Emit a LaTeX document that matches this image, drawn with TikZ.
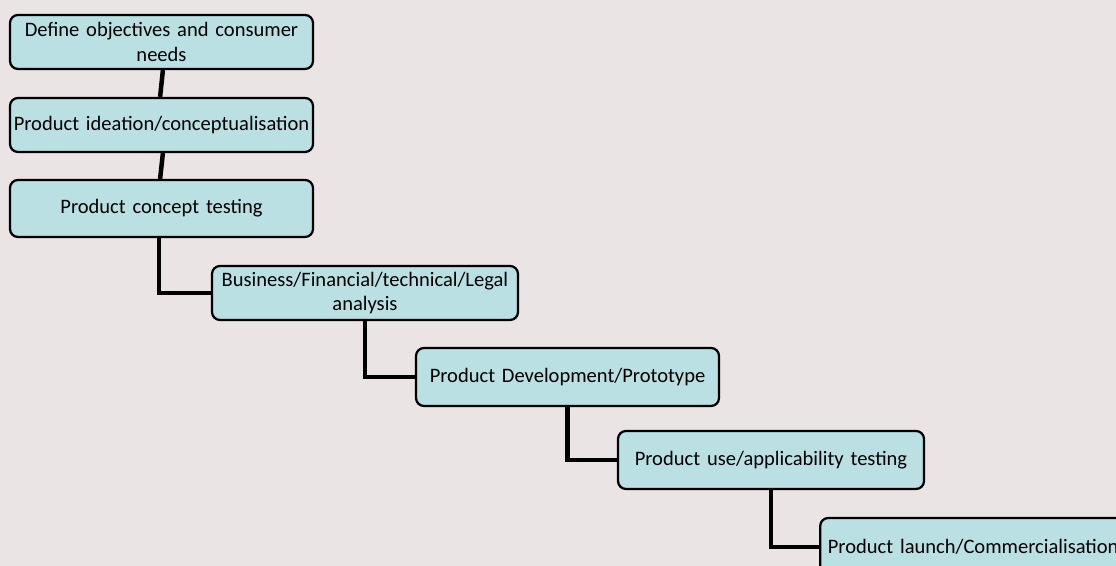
\documentclass[tikz,border=0pt]{standalone}
\usepackage{xcolor}
\usepackage{fontspec}
\setmainfont{Carlito}
\usepackage{tikz}

\definecolor{stepfill}{RGB}{186,224,227}
\definecolor{backgr}{RGB}{234,228,228}

\tikzset{
    stage/.style={draw=black, line width=1.6pt, rounded corners=0.2cm, fill=stepfill,
        text width=7.5cm, align=center, minimum width=7.575cm, minimum height=1.35cm,
        inner sep=0.5pt, font=\fontsize{14.6pt}{17.4pt}\selectfont},
    link/.style={draw=black, line width=3.2pt}
}

\begin{document}
\begin{tikzpicture}
                    \useasboundingbox (0,0) rectangle (27.9,14.15);
                    \fill[backgr] (0,0) rectangle (27.9,14.15);
                    \clip (0,0) rectangle (27.9,14.15);

                    \node[stage] (define) at (4.0375,13.1) {Define objectives and consumer\\ needs};
                    \node[stage] (ideation) at (4.0375,11.025) {Product ideation/conceptualisation};
                    \node[stage, minimum height=1.425cm] (concept) at (4.0375,8.9375) {Product concept testing};
                    \node[stage, minimum width=7.65cm] (analysis) at (9.125,6.825) {Business/Financial/technical/Legal\\ analysis};
                    \node[stage, minimum height=1.45cm] (proto) at (14.1875,4.725) {Product Development/Prototype};
                    \node[stage, minimum width=7.65cm, minimum height=1.45cm] (usetest) at (19.275,2.65) {Product use/applicability testing};
                    \node[stage, minimum width=7.65cm, minimum height=1.45cm] (launch) at (24.33,0.475) {Product launch/Commercialisation};

                    \draw[link] ([xshift=1pt]define.south) -- ([xshift=-1pt]ideation.north);
                    \draw[link] ([xshift=1pt]ideation.south) -- ([xshift=-1pt]concept.north);
                    \draw[link] ([xshift=-1.8pt]concept.south) |- (analysis.west);
                    \draw[link] (analysis.south) |- (proto.west);
                    \draw[link] (proto.south) |- (usetest.west);
                    \draw[link] (usetest.south) |- (launch.west);
                \end{tikzpicture}
\end{document}
